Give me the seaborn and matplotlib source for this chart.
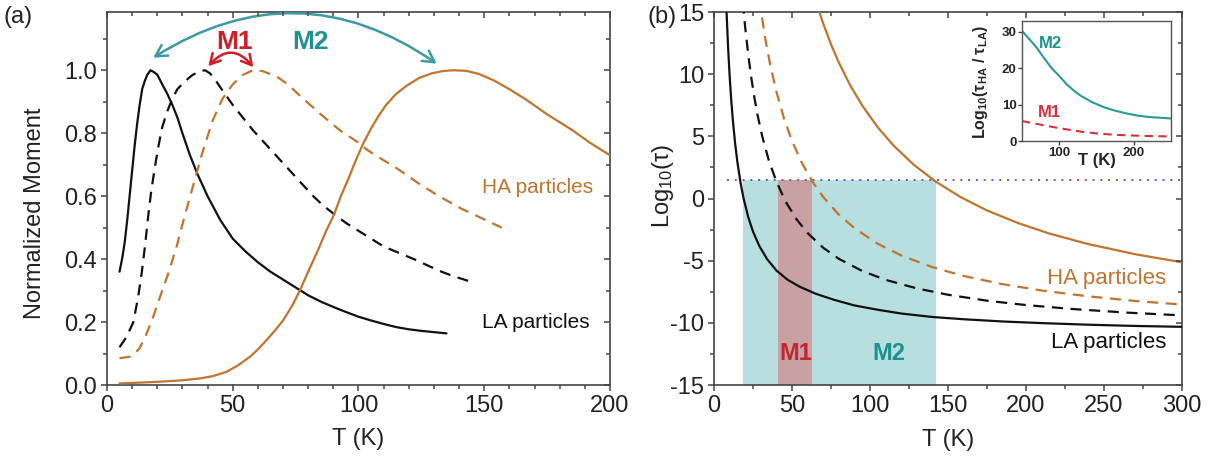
import matplotlib
matplotlib.use("Agg")
import matplotlib.pyplot as plt
import seaborn as sns
from matplotlib.patches import FancyArrowPatch
from matplotlib.ticker import MultipleLocator, FormatStrFormatter

# ---------------- data: panel (a) ----------------
la_solid_T = [5, 6, 7, 8, 9, 10, 11, 12, 13, 14, 15, 16, 17.3, 18.5, 20, 22, 24, 26, 28, 30, 33, 36,
              40, 45, 50, 55, 60, 65, 70, 75, 80, 85, 90, 95, 100, 105, 110, 115, 120, 125, 130, 135]
la_solid_M = [0.36, 0.40, 0.45, 0.52, 0.60, 0.68, 0.76, 0.83, 0.89, 0.94, 0.965, 0.985, 1.0, 0.995, 0.986,
              0.955, 0.925, 0.89, 0.85, 0.80, 0.73, 0.67, 0.60, 0.525, 0.465, 0.425, 0.39, 0.36, 0.335,
              0.31, 0.285, 0.265, 0.248, 0.232, 0.217, 0.205, 0.194, 0.184, 0.177, 0.172, 0.168, 0.164]

la_dash_T = [5, 7.8, 10.5, 12.4, 13.8, 15.1, 16.3, 17.5, 19, 20.5, 22, 24, 26, 28, 31, 34, 37, 39, 41, 43,
             46, 50, 54, 58, 62, 66, 70, 74, 78, 82, 86, 90, 95, 100, 105, 110, 116, 122, 128, 133, 138, 144]
la_dash_M = [0.12, 0.153, 0.20, 0.28, 0.355, 0.44, 0.53, 0.61, 0.69, 0.76, 0.82, 0.87, 0.91, 0.94, 0.965,
             0.985, 0.997, 1.0, 0.99, 0.97, 0.935, 0.89, 0.85, 0.81, 0.775, 0.74, 0.705, 0.67, 0.635, 0.60,
             0.57, 0.545, 0.515, 0.49, 0.465, 0.44, 0.42, 0.40, 0.378, 0.36, 0.345, 0.33]

ha_dash_T = [5, 9, 11, 13, 15.8, 18.4, 21.1, 24.4, 27.7, 31, 34.5, 38, 42, 46, 50, 54, 58, 62, 67.5, 72,
             77, 85, 92.5, 100, 103, 106.7, 115, 124, 132, 141, 149, 157]
ha_dash_M = [0.085, 0.09, 0.10, 0.117, 0.164, 0.217, 0.28, 0.355, 0.44, 0.54, 0.64, 0.74, 0.84, 0.91, 0.955,
             0.985, 1.0, 0.997, 0.98, 0.955, 0.917, 0.86, 0.81, 0.77, 0.75, 0.73, 0.69, 0.64, 0.60, 0.56,
             0.53, 0.50]

ha_solid_T = [5, 20, 30, 37, 42, 47.6, 52, 56.9, 60, 63.5, 67, 70.1, 73.5, 76.7, 80, 84, 87, 90.2, 93, 96,
              99, 102, 105, 108, 111, 115, 119, 124, 129, 134, 138, 143, 148, 154, 160, 167, 175, 185, 192, 200]
ha_solid_M = [0.005, 0.01, 0.015, 0.021, 0.028, 0.042, 0.062, 0.09, 0.113, 0.143, 0.175, 0.206, 0.25, 0.30,
              0.36, 0.43, 0.487, 0.54, 0.60, 0.655, 0.715, 0.769, 0.815, 0.855, 0.89, 0.925, 0.95, 0.975,
              0.99, 0.998, 1.0, 0.998, 0.988, 0.967, 0.94, 0.905, 0.86, 0.81, 0.77, 0.73]

# arrows (start T, start M, end T, end M)
m2_arrow = [18.4, 1.04, 131.1, 1.021]
m1_arrow = [40.3, 1.013, 58.2, 1.010]

# ---------------- data: panel (b) ----------------
la_solid_bT = [8.0, 9, 10, 11, 12, 13.5, 15, 17, 19, 22, 25, 29, 34, 40, 47, 55, 65, 77, 90, 105, 120,
               140, 160, 185, 210, 240, 270, 300]
la_solid_tau = [15.1, 12.2, 9.88, 7.98, 6.40, 4.46, 2.91, 1.27, -0.02, -1.52, -2.66, -3.81, -4.87, -5.79,
                -6.52, -7.10, -7.65, -8.15, -8.60, -8.95, -9.25, -9.53, -9.71, -9.89, -10.02, -10.15,
                -10.25, -10.32]

la_dash_bT = [18.5, 20, 22, 24, 26, 28, 31, 35, 40, 46, 53, 60, 70, 80, 95, 110, 130, 150, 175, 200, 230,
              265, 300]
la_dash_tau = [15.76, 13.75, 11.5, 9.62, 8.03, 6.66, 4.95, 3.12, 1.35, -0.27, -1.69, -2.78, -3.96, -4.85,
               -5.83, -6.54, -7.23, -7.74, -8.22, -8.57, -8.89, -9.18, -9.40]

ha_dash_bT = [28, 30, 33, 36, 40, 45, 50, 56, 63, 70, 80, 90, 105, 120, 140, 160, 185, 210, 240, 270, 300]
ha_dash_tau = [17.0, 15.16, 12.76, 10.77, 8.58, 6.38, 4.63, 2.94, 1.37, 0.12, -1.29, -2.39, -3.64, -4.58,
               -5.52, -6.23, -6.89, -7.40, -7.87, -8.24, -8.53]

ha_solid_bT = [66, 70, 75, 80, 87, 95, 105, 115, 128, 142, 158, 175, 195, 215, 240, 270, 300]
ha_solid_tau = [15.58, 14.07, 12.40, 10.94, 9.17, 7.48, 5.72, 4.27, 2.72, 1.37, 0.12, -0.96, -1.98, -2.82,
                -3.67, -4.48, -5.13]

threshold_level = 1.45
threshold_T = [8, 300]
m2_band = [18.8, 142.5]
m1_band = [40.8, 62.6]

# ---------------- data: inset ----------------
ins_m2_T = [50, 60, 70, 80, 90, 100, 110, 120, 130, 145, 160, 175, 190, 205, 220, 235, 250]
ins_m2_y = [30.3, 28.0, 25.6, 22.7, 20.0, 17.9, 15.6, 13.8, 12.3, 10.6, 9.3, 8.35, 7.6, 7.0, 6.6, 6.4, 6.2]
ins_m1_T = [50, 70, 90, 110, 130, 150, 175, 200, 225, 250]
ins_m1_y = [5.5, 4.7, 3.9, 3.2, 2.55, 2.1, 1.7, 1.5, 1.35, 1.25]

# ---------------- style ----------------
BROWN = "#bf7430"
BLACK = "#111111"
TEAL_ARROW = "#3d9aa0"
TEAL_TXT = "#1f8f8f"
RED = "#cc1f2a"
TEAL_FILL = "#b7dfe0"
ROSE_FILL = "#c9a0a3"
DOT_BLUE = "#5b5bd6"
SPINE = "#444444"

sns.set_theme(style="ticks")
plt.rcParams["font.family"] = ["Liberation Sans", "DejaVu Sans"]
plt.rcParams["mathtext.fontset"] = "custom"
plt.rcParams["mathtext.rm"] = "Liberation Sans"
plt.rcParams["mathtext.it"] = "Liberation Sans:italic"
plt.rcParams["mathtext.bf"] = "Liberation Sans:bold"
plt.rcParams["axes.unicode_minus"] = False

fig = plt.figure(figsize=(12.1, 4.59), dpi=100)
posA = [0.0884, 0.1612, 0.4157, 0.8126]
posB = [0.5901, 0.1612, 0.3868, 0.8126]
axA = fig.add_axes(posA)
axB = fig.add_axes(posB)


def curve(ax, x, y, color, dashed=False, lw=1.6, z=3):
    sns.lineplot(x=x, y=y, ax=ax, color=color, linewidth=lw, estimator=None, sort=False, zorder=z)
    ln = ax.lines[-1]
    if dashed:
        ln.set_dashes([5, 3.4])
    return ln


def style_axes(ax, pos, xmaj, xmin, ymaj, ymin, labelsize=17):
    ax.xaxis.set_major_locator(MultipleLocator(xmaj))
    ax.xaxis.set_minor_locator(MultipleLocator(xmin))
    ax.yaxis.set_major_locator(MultipleLocator(ymaj))
    ax.yaxis.set_minor_locator(MultipleLocator(ymin))
    ax.tick_params(which="both", direction="out", top=False, right=False, pad=2.5,
                   width=1.1, color=SPINE, labelsize=labelsize, labelcolor="#222222")
    ax.tick_params(which="major", length=4.5)
    ax.tick_params(which="minor", length=2.8)
    for s in ax.spines.values():
        s.set_linewidth(1.2)
        s.set_color(SPINE)
    # overlay axes that only carries the inward ticks on the top and right sides
    ov = fig.add_axes(pos, sharex=ax, sharey=ax, frameon=False)
    ov.patch.set_visible(False)
    ov.grid(False)
    ov.tick_params(which="both", direction="in", top=True, right=True, bottom=False, left=False,
                   labeltop=False, labelright=False, labelbottom=False, labelleft=False,
                   width=1.1, color=SPINE)
    ov.tick_params(which="major", length=4.5)
    ov.tick_params(which="minor", length=2.8)
    ov.set_zorder(ax.get_zorder() + 0.1)
    return ov


# ---------------- panel (a) ----------------
curve(axA, la_solid_T, la_solid_M, BLACK)
curve(axA, la_dash_T, la_dash_M, BLACK, dashed=True)
curve(axA, ha_dash_T, ha_dash_M, BROWN, dashed=True)
curve(axA, ha_solid_T, ha_solid_M, BROWN)
axA.set_xlim(0, 200)
axA.set_ylim(0, 1.185)
style_axes(axA, posA, 50, 10, 0.2, 0.1)
axA.yaxis.set_major_formatter(FormatStrFormatter("%.1f"))
axA.set_xlabel("T (K)", fontsize=17, color="#222222")
axA.set_ylabel("Normalized Moment", fontsize=17, color="#222222")
axA.yaxis.set_label_coords(-0.122, 0.46)
axA.xaxis.set_label_coords(0.5, -0.115)

arr2 = FancyArrowPatch((m2_arrow[0], m2_arrow[1]), (m2_arrow[2], m2_arrow[3]),
                       arrowstyle="<->,head_length=0.45,head_width=0.25", mutation_scale=18,
                       connectionstyle="arc3,rad=-0.33", color=TEAL_ARROW, lw=1.8,
                       shrinkA=0, shrinkB=0, clip_on=False, zorder=5)
axA.add_patch(arr2)
arr1 = FancyArrowPatch((m1_arrow[0], m1_arrow[1]), (m1_arrow[2], m1_arrow[3]),
                       arrowstyle="<->,head_length=0.45,head_width=0.25", mutation_scale=16,
                       connectionstyle="arc3,rad=-0.58", color=RED, lw=1.8,
                       shrinkA=0, shrinkB=0, clip_on=False, zorder=5)
axA.add_patch(arr1)
axA.text(50.9, 1.09, "M1", color=RED, fontsize=19, fontweight="bold", ha="center", va="center")
axA.text(81, 1.09, "M2", color=TEAL_TXT, fontsize=19, fontweight="bold", ha="center", va="center")
axA.text(149, 0.626, "HA particles", color=BROWN, fontsize=15, ha="left", va="center")
axA.text(149, 0.20, "LA particles", color=BLACK, fontsize=15, ha="left", va="center")

# ---------------- panel (b) ----------------
axB.fill_between(m2_band, -15, threshold_level, color=TEAL_FILL, linewidth=0, zorder=1)
axB.fill_between(m1_band, -15, threshold_level, color=ROSE_FILL, linewidth=0, zorder=1.5)
sns.lineplot(x=threshold_T, y=[threshold_level, threshold_level], ax=axB, color=DOT_BLUE,
             linewidth=1.4, estimator=None, zorder=2)
axB.lines[-1].set_linestyle((0, (1, 3)))
curve(axB, la_solid_bT, la_solid_tau, BLACK)
curve(axB, la_dash_bT, la_dash_tau, BLACK, dashed=True)
curve(axB, ha_dash_bT, ha_dash_tau, BROWN, dashed=True)
curve(axB, ha_solid_bT, ha_solid_tau, BROWN)
axB.set_xlim(0, 300)
axB.set_ylim(-15, 15)
style_axes(axB, posB, 50, 25, 5, 2.5)
axB.set_xlabel("T (K)", fontsize=17, color="#222222")
axB.set_ylabel("Log$_{10}$(τ)", fontsize=17, color="#222222")
axB.yaxis.set_label_coords(-0.082, 0.533)
axB.xaxis.set_label_coords(0.5, -0.118)
axB.text(52.3, -12.5, "M1", color="#c0282e", fontsize=17, fontweight="bold", ha="center", va="center", zorder=4)
axB.text(112, -12.5, "M2", color=TEAL_TXT, fontsize=17, fontweight="bold", ha="center", va="center", zorder=4)
axB.text(213.7, -6.42, "HA particles", color=BROWN, fontsize=16, ha="left", va="center")
axB.text(216, -11.6, "LA particles", color=BLACK, fontsize=16, ha="left", va="center")

# ---------------- inset ----------------
axI = fig.add_axes([0.8446, 0.6928, 0.1231, 0.2614])
axI.set_zorder(5)
axI.set_facecolor("white")
sns.lineplot(x=ins_m2_T, y=ins_m2_y, ax=axI, color="#2a9a96", linewidth=1.5, estimator=None)
sns.lineplot(x=ins_m1_T, y=ins_m1_y, ax=axI, color="#d8303a", linewidth=1.5, estimator=None)
axI.lines[-1].set_dashes([4, 2.6])
axI.set_xlim(50, 250)
axI.set_ylim(0, 33)
axI.set_xticks([100, 200])
axI.set_yticks([0, 10, 20, 30])
axI.tick_params(direction="out", length=3, width=1, pad=1, labelsize=9.5, color=SPINE)
for lab in axI.get_xticklabels() + axI.get_yticklabels():
    lab.set_fontweight("bold")
for s in axI.spines.values():
    s.set_linewidth(1.0)
    s.set_color("#555555")
axI.set_xlabel("T (K)", fontsize=12, fontweight="bold")
axI.set_ylabel("Log$_{\\mathbf{10}}$(τ$_{\\mathbf{HA}}$ / τ$_{\\mathbf{LA}}$)", fontsize=11.5, fontweight="bold")
axI.xaxis.set_label_coords(0.5, -0.1)
axI.yaxis.set_label_coords(-0.215, 0.494)
axI.text(73, 26.8, "M2", color="#1f8f8f", fontsize=12, fontweight="bold", ha="left", va="center")
axI.text(72, 7.8, "M1", color="#d8303a", fontsize=12, fontweight="bold", ha="left", va="center")

# panel letters
fig.text(0.003, 0.962, "(a)", fontsize=17, ha="left", va="center", color="#222222")
fig.text(0.535, 0.962, "(b)", fontsize=17, ha="left", va="center", color="#222222")

fig.savefig("out.png", dpi=100)
